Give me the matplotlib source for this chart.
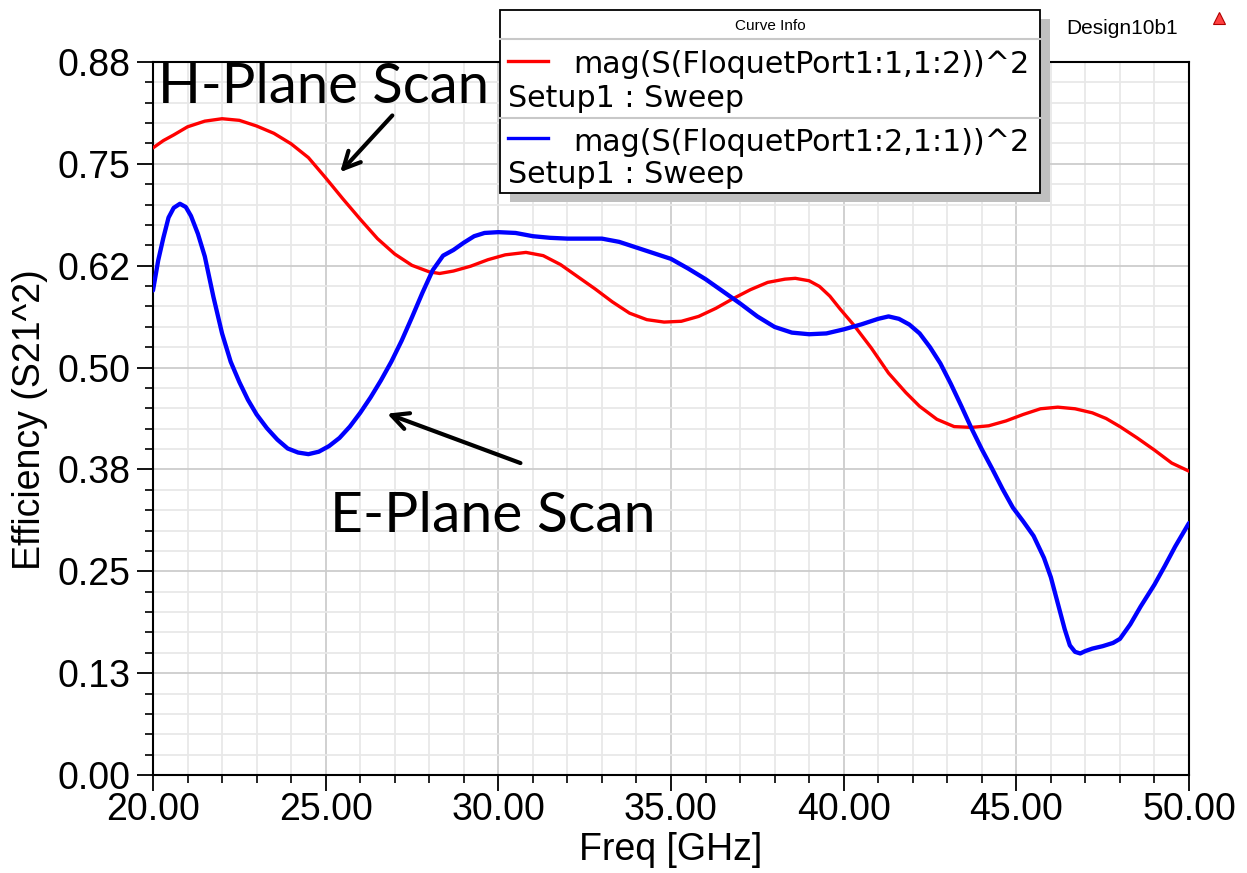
import matplotlib
matplotlib.use("Agg")
import matplotlib.pyplot as plt
from matplotlib.patches import Rectangle
from matplotlib.lines import Line2D
from matplotlib.ticker import MultipleLocator, FixedLocator

# ---------------- data ----------------
red_freq = [20.0, 20.3, 20.6, 21.0, 21.5, 22.0, 22.5, 23.0, 23.5, 24.0, 24.5, 25.0,
            25.5, 26.0, 26.5, 27.0, 27.5, 28.0, 28.3, 28.7, 29.2, 29.7, 30.2, 30.8,
            31.3, 31.8, 32.3, 32.8, 33.3, 33.8, 34.3, 34.8, 35.3, 35.8, 36.3, 36.8,
            37.3, 37.8, 38.3, 38.6, 39.0, 39.3, 39.6, 39.9, 40.3, 40.8, 41.3, 41.8,
            42.2, 42.7, 43.2, 43.7, 44.2, 44.7, 45.2, 45.7, 46.2, 46.7, 47.2, 47.6,
            48.0, 48.5, 49.0, 49.5, 50.0]
red_eff = [0.774, 0.783, 0.790, 0.800, 0.807, 0.810, 0.808, 0.801, 0.792, 0.779, 0.762, 0.737,
           0.711, 0.686, 0.662, 0.643, 0.629, 0.621, 0.619, 0.622, 0.628, 0.636, 0.642, 0.645,
           0.641, 0.630, 0.615, 0.600, 0.584, 0.570, 0.562, 0.559, 0.560, 0.566, 0.576, 0.588,
           0.599, 0.608, 0.612, 0.613, 0.610, 0.603, 0.591, 0.575, 0.555, 0.527, 0.496, 0.472,
           0.455, 0.439, 0.430, 0.429, 0.431, 0.437, 0.445, 0.452, 0.454, 0.452, 0.447, 0.440,
           0.430, 0.416, 0.401, 0.385, 0.375]

blue_freq = [20.0, 20.15, 20.3, 20.45, 20.6, 20.78, 20.95, 21.1, 21.3, 21.5, 21.75, 22.0,
             22.25, 22.5, 22.75, 23.0, 23.3, 23.6, 23.9, 24.2, 24.5, 24.8, 25.1, 25.4,
             25.7, 26.0, 26.3, 26.6, 26.9, 27.2, 27.5, 27.8, 28.1, 28.4, 28.7, 29.0,
             29.3, 29.6, 30.0, 30.5, 31.0, 31.5, 32.0, 32.5, 33.0, 33.5, 34.0, 34.5,
             35.0, 35.5, 36.0, 36.5, 37.0, 37.5, 38.0, 38.5, 39.0, 39.5, 40.0, 40.5,
             41.0, 41.3, 41.6, 41.9, 42.2, 42.5, 42.8, 43.1, 43.4, 43.7, 44.0, 44.3,
             44.6, 44.9, 45.2, 45.5, 45.8, 46.0, 46.2, 46.4, 46.55, 46.7, 46.85, 47.0,
             47.2, 47.5, 47.8, 48.0, 48.3, 48.6, 49.0, 49.3, 49.6, 50.0]
blue_eff = [0.598, 0.635, 0.663, 0.688, 0.700, 0.705, 0.701, 0.690, 0.668, 0.640, 0.590, 0.545,
            0.510, 0.485, 0.463, 0.445, 0.428, 0.414, 0.403, 0.398, 0.396, 0.399, 0.406, 0.416,
            0.430, 0.447, 0.466, 0.487, 0.510, 0.536, 0.565, 0.595, 0.623, 0.641, 0.648, 0.657,
            0.665, 0.669, 0.670, 0.669, 0.665, 0.663, 0.662, 0.662, 0.662, 0.658, 0.651, 0.644,
            0.637, 0.625, 0.612, 0.597, 0.582, 0.566, 0.553, 0.546, 0.544, 0.545, 0.550, 0.556,
            0.563, 0.566, 0.563, 0.556, 0.545, 0.528, 0.508, 0.483, 0.456, 0.428, 0.402, 0.378,
            0.353, 0.330, 0.313, 0.295, 0.268, 0.244, 0.212, 0.180, 0.160, 0.152, 0.150, 0.153,
            0.156, 0.159, 0.163, 0.168, 0.186, 0.208, 0.235, 0.258, 0.282, 0.311]

x_ticks = [20, 25, 30, 35, 40, 45, 50]
x_tick_labels = ["20.00", "25.00", "30.00", "35.00", "40.00", "45.00", "50.00"]
y_ticks = [0.0, 0.88 / 7, 2 * 0.88 / 7, 3 * 0.88 / 7, 4 * 0.88 / 7, 5 * 0.88 / 7, 6 * 0.88 / 7, 0.88]
y_tick_labels = ["0.00", "0.13", "0.25", "0.38", "0.50", "0.62", "0.75", "0.88"]

legend_names = ["mag(S(FloquetPort1:1,1:2))^2", "mag(S(FloquetPort1:2,1:1))^2"]
legend_sub = "Setup1 : Sweep"

# ---------------- figure ----------------
W, H = 1247, 873
fig = plt.figure(figsize=(W / 100, H / 100), dpi=100)
fig.patch.set_facecolor("white")


def P(x, y):
    return (x / W, 1 - y / H)


ax = fig.add_axes([153 / W, (H - 775) / H, (1189 - 153) / W, (775 - 62) / H])
ax.set_xlim(20, 50)
ax.set_ylim(0, 0.88)

ax.set_xticks(x_ticks)
ax.set_xticklabels(x_tick_labels)
ax.xaxis.set_minor_locator(MultipleLocator(1))
ax.set_yticks(y_ticks)
ax.set_yticklabels(y_tick_labels)
minor_y = [i * 0.88 / 35 for i in range(36)]
ax.yaxis.set_minor_locator(FixedLocator(minor_y))

ax.grid(True, which="major", color="#cdcdcd", lw=1.3, zorder=0)
ax.grid(True, which="minor", color="#e8e8e8", lw=1.3, zorder=0)
ax.set_axisbelow(True)

ax.tick_params(which="major", direction="out", length=11.5, width=1.3,
               labelsize=27, pad=5, colors="black")
ax.tick_params(axis="x", which="major", pad=1)
ax.tick_params(which="minor", direction="out", length=5.5, width=1.2)
for lab in ax.get_xticklabels() + ax.get_yticklabels():
    lab.set_fontfamily("Liberation Sans")
for sp in ax.spines.values():
    sp.set_linewidth(1.5)
    sp.set_color("black")

ax.plot(red_freq, red_eff, color="#ff0000", lw=2.4, zorder=3,
        solid_joinstyle="round", solid_capstyle="round")
ax.plot(blue_freq, blue_eff, color="#0000ff", lw=3.1, zorder=3,
        solid_joinstyle="round", solid_capstyle="round")

# annotations
ann_font = "Lato"
ax.text(20.14, 0.829, "H-Plane Scan", fontsize=40.5, family=ann_font, color="black",
        ha="left", va="baseline", zorder=6)
ax.text(25.13, 0.300, "E-Plane Scan", fontsize=41, family=ann_font, color="black",
        ha="left", va="baseline", zorder=6)
ax.annotate("", xy=(25.42, 0.744), xytext=(26.93, 0.814),
            arrowprops=dict(arrowstyle="->", color="black", lw=3, mutation_scale=30,
                            shrinkA=0, shrinkB=0), zorder=6)
ax.annotate("", xy=(26.78, 0.446), xytext=(30.64, 0.385),
            arrowprops=dict(arrowstyle="->", color="black", lw=3, mutation_scale=30,
                            shrinkA=0, shrinkB=0), zorder=6)

# axis labels
fig.text(*P(671, 850), "Freq [GHz]", fontsize=27, family="Liberation Sans",
         ha="center", va="center")
fig.text(*P(30, 420), "Efficiency (S21^2)", fontsize=27, family="Liberation Sans",
         ha="center", va="center", rotation=90)

# legend box ("Curve Info")
bx0, bx1, by0, by1 = 500, 1040, 10, 193
shadow = Rectangle(P(bx0 + 10, by1 + 9), (bx1 - bx0) / W, (by1 - by0) / H,
                   transform=fig.transFigure, facecolor="#c0c0c0", edgecolor="none", zorder=10)
box = Rectangle(P(bx0, by1), (bx1 - bx0) / W, (by1 - by0) / H,
                transform=fig.transFigure, facecolor="white", edgecolor="black", lw=1.3, zorder=11)
fig.add_artist(shadow)
fig.add_artist(box)
for ysep in (39, 118):
    fig.add_artist(Line2D([bx0 / W, bx1 / W], [1 - ysep / H, 1 - ysep / H],
                          transform=fig.transFigure, color="#c8c8c8", lw=1.5, zorder=12))
fig.text(*P(770, 30), "Curve Info", fontsize=11, family="Liberation Sans",
         ha="center", va="baseline", zorder=13)
for i, (name, col) in enumerate(zip(legend_names, ["#ff0000", "#0000ff"])):
    yl = 61 + i * 77
    fig.add_artist(Line2D([508 / W, 548 / W], [1 - yl / H, 1 - yl / H],
                          transform=fig.transFigure, color=col, lw=2.4, zorder=13))
    fig.text(*P(573, 73 + i * 78), name, fontsize=21.7, family="DejaVu Sans",
             ha="left", va="baseline", zorder=13)
    fig.text(*P(508, 107 + i * 76), legend_sub, fontsize=21.7, family="DejaVu Sans",
             ha="left", va="baseline", zorder=13)

# design name and logo
fig.text(*P(1066, 34), "Design10b1", fontsize=15, family="Liberation Sans",
         ha="left", va="baseline")
fig.add_artist(Line2D([1219 / W], [1 - 18 / H], transform=fig.transFigure, marker="^",
                      markersize=9, markerfacecolor="#ff4040", markeredgecolor="#b00000",
                      markeredgewidth=0.8, linestyle="none"))

fig.savefig("out.png", dpi=100, facecolor="white")
